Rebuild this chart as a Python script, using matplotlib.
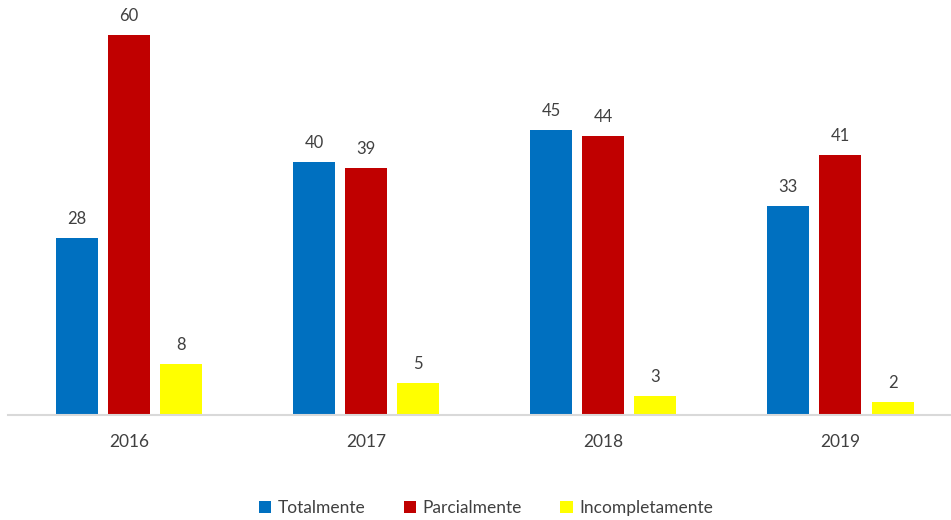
import numpy as np
import matplotlib.pyplot as plt

# Data
years = ['2016', '2017', '2018', '2019']
totalmente = [28, 40, 45, 33]
parcialmente = [60, 39, 44, 41]
incompletamente = [8, 5, 3, 2]

series = [('Totalmente', totalmente, '#0070C0'),
          ('Parcialmente', parcialmente, '#C00000'),
          ('Incompletamente', incompletamente, '#FFFF00')]

plt.rcParams['font.family'] = ['Lato', 'DejaVu Sans']

fig = plt.figure(figsize=(9.51, 5.20), dpi=100)
ax = fig.add_axes([8 / 951, 105 / 520, 943 / 951, 65 * 6.333 / 520])

x = np.arange(len(years))
width = 0.177
step = 0.22

for i, (name, vals, color) in enumerate(series):
    bars = ax.bar(x + (i - 1) * step, vals, width, color=color, label=name)
    for b, v in zip(bars, vals):
        ax.annotate(str(v), (b.get_x() + b.get_width() / 2, v),
                    xytext=(0, 8), textcoords='offset points',
                    ha='center', va='bottom', fontsize=12, color='#404040')

ax.set_xlim(-0.51, 3.466)
ax.set_ylim(0, 65)
ax.set_xticks(x)
ax.set_xticklabels(years, fontsize=12.5, color='#404040')
ax.tick_params(axis='x', length=0, pad=14)
ax.set_yticks([])
for side in ['top', 'right', 'left']:
    ax.spines[side].set_visible(False)
ax.spines['bottom'].set_color('#D9D9D9')
ax.spines['bottom'].set_linewidth(1.5)

fig.legend(loc='center', bbox_to_anchor=(486 / 951, 1 - 508 / 520), ncol=3,
           frameon=False, fontsize=12.5, handlelength=0.7, handleheight=0.7,
           handletextpad=0.4, columnspacing=2.2, labelcolor='#404040')

fig.savefig('out.png', dpi=100)
